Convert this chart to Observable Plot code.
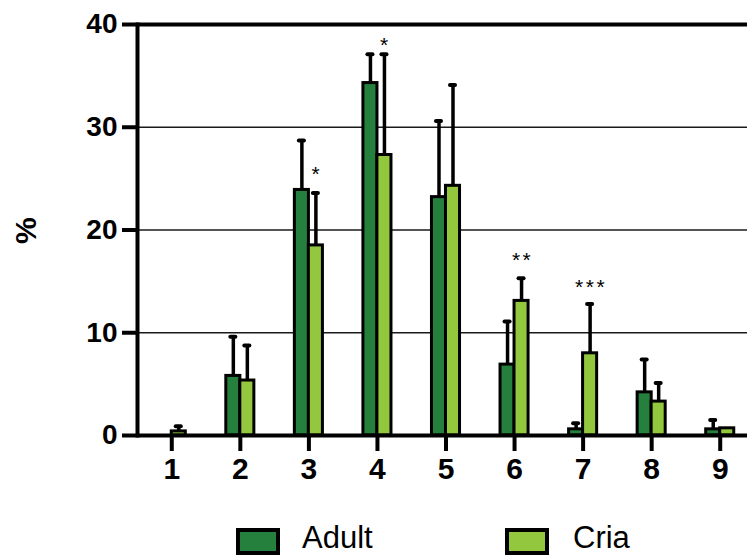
<!DOCTYPE html>
<html>
<head>
<meta charset="utf-8">
<script src="https://cdn.jsdelivr.net/npm/d3@7"></script>
<script src="https://cdn.jsdelivr.net/npm/@observablehq/plot@0.6"></script>
<style>
  html, body { margin: 0; padding: 0; background: white; overflow: hidden; width: 747px; height: 555px; }
  #chart svg { display: block; }
  #chart svg g[aria-label="y-axis tick label"], #chart svg g[aria-label="y-axis tick label"] text { font-size: 28px; font-weight: bold; }
  #chart svg g[aria-label="x-axis tick label"], #chart svg g[aria-label="x-axis tick label"] text { font-size: 30px; font-weight: bold; }
  #chart svg g[aria-label="text"] text { letter-spacing: 2.5px; }
  #legend { position: relative; width: 747px; height: 45px; font-family: "Liberation Sans", Arial, sans-serif; }
  .sw { position: absolute; top: 18px; width: 44px; height: 27px; border: 4px solid black; box-sizing: border-box; }
  .lb { position: absolute; top: 12px; font-size: 31px; line-height: 31px; color: black; }
</style>
</head>
<body>
<div id="chart"></div>
<div id="legend"></div>
<script>
const cats = ["1", "2", "3", "4", "5", "6", "7", "8", "9"];
const adult    = [0.0, 5.8, 23.9, 34.3, 23.2, 6.9, 0.6, 4.2, 0.6];
const adultErr = [0.0, 3.8, 4.8, 2.8, 7.4, 4.2, 0.6, 3.2, 0.9];
const cria     = [0.4, 5.35, 18.5, 27.3, 24.3, 13.1, 8.0, 3.3, 0.7];
const criaErr  = [0.5, 3.4, 5.1, 9.8, 9.8, 2.2, 4.8, 1.8, 0.0];
const seriesNames = ["Adult", "Cria"];
const seriesColors = ["#24803c", "#93c83e"];
const yTicks = [0, 10, 20, 30, 40];
const gridTicks = [10, 20, 30];
const yLabel = "%";
const starCats = ["3", "4", "6", "7"];
const starLabels = ["*", "*", "**", "***"];
const starY = [25.9, 38.5, 17.5, 14.9];

const rows = cats.map((c, i) => ({
  cat: c,
  adult: adult[i], adultTop: adult[i] + adultErr[i], adultErr: adultErr[i],
  cria: cria[i], criaTop: cria[i] + criaErr[i], criaErr: criaErr[i]
}));
const stars = starCats.map((c, i) => ({cat: c, label: starLabels[i], y: starY[i]}));

const font = "'Liberation Sans', Arial, sans-serif";

const chart = Plot.plot({
  width: 747,
  height: 510,
  marginTop: 24,
  marginBottom: 75,
  marginLeft: 137,
  marginRight: 0,
  style: {fontFamily: font, fontSize: "28px", fontWeight: "bold", color: "black", background: "white", maxWidth: "none", overflow: "hidden"},
  x: {domain: cats, range: [137, 754], padding: 0, round: false},
  y: {domain: [0, 40]},
  marks: [
    Plot.ruleY(gridTicks, {stroke: "#1a1a1a", strokeWidth: 1.3}),
    Plot.barY(rows, {x: "cat", y: "adult", fill: seriesColors[0], stroke: "black", strokeWidth: 3, insetLeft: 20.25, insetRight: 34.25}),
    Plot.barY(rows, {x: "cat", y: "cria", fill: seriesColors[1], stroke: "black", strokeWidth: 3, insetLeft: 34.25, insetRight: 20.25}),
    Plot.ruleX(rows.filter(d => d.adultErr > 0), {x: "cat", y1: "adult", y2: "adultTop", dx: -7, stroke: "black", strokeWidth: 3.5}),
    Plot.ruleX(rows.filter(d => d.criaErr > 0), {x: "cat", y1: "cria", y2: "criaTop", dx: 7, stroke: "black", strokeWidth: 3.5}),
    Plot.tickY(rows.filter(d => d.adultErr > 0), {x: "cat", y: "adultTop", insetLeft: 24.75, insetRight: 38.75, stroke: "black", strokeWidth: 4, strokeLinecap: "round"}),
    Plot.tickY(rows.filter(d => d.criaErr > 0), {x: "cat", y: "criaTop", insetLeft: 38.75, insetRight: 24.75, stroke: "black", strokeWidth: 4, strokeLinecap: "round"}),
    Plot.ruleY([0, 40], {stroke: "black", strokeWidth: 4}),
    Plot.frame({anchor: "left", stroke: "black", strokeWidth: 4}),
    Plot.axisY({ticks: yTicks, tickSize: 15, tickPadding: 5, strokeWidth: 4, label: null, fontSize: 28}),
    Plot.axisX({tickSize: 16, tickPadding: 6, strokeWidth: 4, label: null, fontSize: 30}),
    Plot.text([yLabel], {frameAnchor: "left", rotate: -90, dx: -111, dy: 14, fontSize: 30, fontWeight: "bold"}),
    Plot.text(stars, {x: "cat", y: "y", text: "label", dx: 8, dy: 5, fontSize: 21, fontWeight: "normal", lineAnchor: "middle"})
  ]
});
document.getElementById("chart").appendChild(chart);

const legend = document.getElementById("legend");
const swLeft = [236, 505];
const lbLeft = [302, 573];
seriesNames.forEach((name, i) => {
  const sw = document.createElement("div");
  sw.className = "sw";
  sw.style.left = swLeft[i] + "px";
  sw.style.background = seriesColors[i];
  legend.appendChild(sw);
  const lb = document.createElement("div");
  lb.className = "lb";
  lb.style.left = lbLeft[i] + "px";
  lb.textContent = name;
  legend.appendChild(lb);
});
</script>
</body>
</html>
